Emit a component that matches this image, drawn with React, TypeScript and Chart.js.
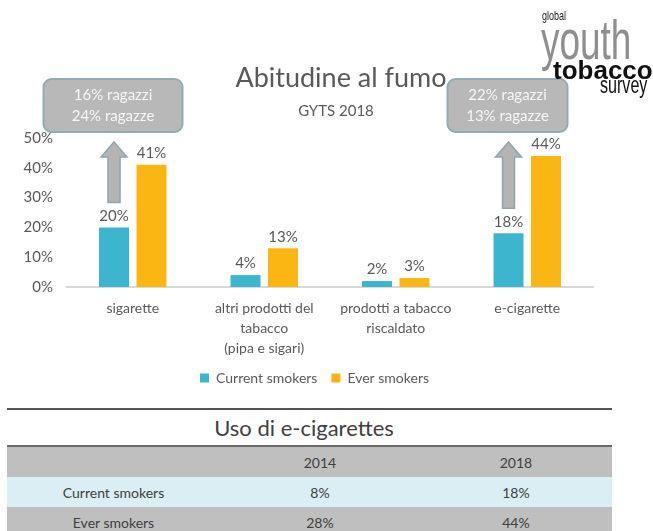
import React, { useEffect, useRef } from "react";
import { Chart, registerables } from "chart.js";

Chart.register(...registerables);

// ---------- data ----------
const categories = [
  ["sigarette"],
  ["altri prodotti del", "tabacco", "(pipa e sigari)"],
  ["prodotti a tabacco", "riscaldato"],
  ["e-cigarette"],
];
const seriesNames = ["Current smokers", "Ever smokers"];
const currentSmokers = [20, 4, 2, 18];
const everSmokers = [41, 13, 3, 44];
const yMax = 50;
const yStep = 10;

const chartTitle = "Abitudine al fumo";
const chartSubtitle = "GYTS 2018";

const calloutCategory = [0, 3];
const calloutLines = [
  ["16% ragazzi", "24% ragazze"],
  ["22% ragazzi", "13% ragazze"],
];

const tableTitle = "Uso di e-cigarettes";
const tableYears = ["2014", "2018"];
const tableRowNames = ["Current smokers", "Ever smokers"];
const tableCurrent = [8, 18];
const tableEver = [28, 44];

// ---------- styles ----------
const FONT = "Lato, 'Open Sans', sans-serif";
const TEXT = "#595959";
const BLUE = "#3db5cf";
const ORANGE = "#fbb614";
const CALLOUT_W = [139, 120];
const LEGEND_SHIFT = 14;

const valueLabels = {
  id: "valueLabels",
  afterDatasetsDraw(chart: any) {
    const ctx = chart.ctx;
    ctx.save();
    ctx.font = "15px Lato";
    ctx.fillStyle = TEXT;
    ctx.textAlign = "center";
    ctx.textBaseline = "bottom";
    chart.data.datasets.forEach((ds: any, di: number) => {
      const meta = chart.getDatasetMeta(di);
      meta.data.forEach((el: any, i: number) => {
        ctx.fillText(ds.data[i] + "%", el.x, el.y - 4);
      });
    });
    ctx.restore();
  },
};

const legendShift = {
  id: "legendShift",
  afterLayout(chart: any) {
    if (chart.legend) {
      chart.legend.left += LEGEND_SHIFT;
      chart.legend.right += LEGEND_SHIFT;
    }
  },
};

const callouts = {
  id: "callouts",
  afterDatasetsDraw(chart: any) {
    const ctx = chart.ctx;
    const meta = chart.getDatasetMeta(0);
    const top = chart.chartArea.top;
    ctx.save();
    calloutCategory.forEach((ci, k) => {
      const el = meta.data[ci];
      const cx = el.x - 1;
      const bw = CALLOUT_W[k];
      const bTop = top - 59;
      const bBot = top - 6;
      ctx.beginPath();
      ctx.roundRect(cx - bw / 2, bTop, bw, bBot - bTop, 8);
      ctx.fillStyle = "#b8b8b8";
      ctx.fill();
      ctx.lineWidth = 2;
      ctx.strokeStyle = "#95abb3";
      ctx.stroke();
      ctx.fillStyle = "#f6f6f6";
      ctx.font = "15px Lato";
      ctx.textAlign = "center";
      ctx.textBaseline = "middle";
      const mid = (bTop + bBot) / 2;
      ctx.fillText(calloutLines[k][0], cx, mid - 10.5);
      ctx.fillText(calloutLines[k][1], cx, mid + 10.5);
      // arrow
      const ax = el.x;
      const tip = bBot + 10;
      const headBase = tip + 15;
      const bottom = el.y - 25;
      ctx.beginPath();
      ctx.moveTo(ax, tip);
      ctx.lineTo(ax + 13, headBase);
      ctx.lineTo(ax + 6, headBase);
      ctx.lineTo(ax + 6, bottom);
      ctx.lineTo(ax - 6, bottom);
      ctx.lineTo(ax - 6, headBase);
      ctx.lineTo(ax - 13, headBase);
      ctx.closePath();
      ctx.fillStyle = "#b4b4b4";
      ctx.fill();
      ctx.lineWidth = 1.5;
      ctx.strokeStyle = "#8fa6ae";
      ctx.stroke();
    });
    ctx.restore();
  },
};

function BarChart() {
  const ref = useRef<HTMLCanvasElement>(null);
  useEffect(() => {
    if (!ref.current) return;
    const chart = new Chart(ref.current, {
      type: "bar",
      data: {
        labels: categories,
        datasets: [
          {
            label: seriesNames[0],
            data: currentSmokers,
            backgroundColor: BLUE,
            barPercentage: 0.8,
            categoryPercentage: 0.57,
          },
          {
            label: seriesNames[1],
            data: everSmokers,
            backgroundColor: ORANGE,
            barPercentage: 0.8,
            categoryPercentage: 0.57,
          },
        ],
      },
      options: {
        responsive: false,
        animation: false,
        devicePixelRatio: 1,
        layout: { padding: { left: 8, right: 60, top: 138, bottom: 5 } },
        scales: {
          x: {
            grid: { display: false, drawTicks: false },
            border: { display: true, color: "#d9d9d9", width: 2 },
            ticks: {
              color: TEXT,
              font: { family: FONT, size: 14, lineHeight: 1.43 },
              padding: 11,
              maxRotation: 0,
              autoSkip: false,
            },
            afterFit: (s: any) => {
              s.height = 70;
            },
          },
          y: {
            min: 0,
            max: yMax,
            grid: { display: false, drawTicks: false },
            border: { display: false },
            ticks: {
              stepSize: yStep,
              color: TEXT,
              font: { family: FONT, size: 15 },
              padding: 14,
              callback: (v: any) => v + "%",
            },
            afterFit: (s: any) => {
              s.width = 59;
            },
          },
        },
        plugins: {
          legend: {
            position: "bottom",
            labels: {
              boxWidth: 9,
              boxHeight: 9,
              padding: 14,
              color: TEXT,
              font: { family: FONT, size: 14 },
            },
          },
          tooltip: { enabled: false },
        },
      },
      plugins: [valueLabels, callouts, legendShift],
    });
    return () => chart.destroy();
  }, []);
  return (
    <canvas
      ref={ref}
      width={653}
      height={400}
      style={{ position: "absolute", left: 0, top: 0, width: 653, height: 400 }}
    />
  );
}

export default function App() {
  const logoFont = "'Liberation Sans', Arial, sans-serif";
  const cellBase: React.CSSProperties = {
    textAlign: "center",
    fontFamily: FONT,
    fontSize: 14,
    color: "#404040",
    height: 30,
    padding: 0,
  };
  const colW = [213, 200, 192];
  const abs = (s: React.CSSProperties): React.CSSProperties => ({
    position: "absolute",
    whiteSpace: "nowrap",
    ...s,
  });
  return (
    <div
      style={{
        position: "fixed",
        left: 0,
        top: 0,
        width: 653,
        height: 531,
        background: "#fff",
        overflow: "hidden",
      }}
    >
      <BarChart />
      {/* title */}
      <div
        style={abs({
          left: 341,
          top: 63,
          transform: "translateX(-50%)",
          fontFamily: FONT,
          fontSize: 27,
          lineHeight: "27px",
          color: TEXT,
        })}
      >
        {chartTitle}
      </div>
      <div
        style={abs({
          left: 336,
          top: 101,
          transform: "translateX(-50%)",
          fontFamily: FONT,
          fontSize: 15,
          lineHeight: "18px",
          color: TEXT,
        })}
      >
        {chartSubtitle}
      </div>
      {/* logo */}
      <div
        style={abs({
          left: 541,
          top: 12,
          fontFamily: logoFont,
          fontSize: 56,
          lineHeight: "56px",
          color: "#8f8f8f",
          transform: "scaleX(0.66)",
          transformOrigin: "left top",
        })}
      >
        youth
      </div>
      <div
        style={abs({
          left: 542,
          top: 10,
          fontFamily: logoFont,
          fontSize: 12,
          lineHeight: "12px",
          color: "#222",
          transform: "scaleX(0.75)",
          transformOrigin: "left top",
        })}
      >
        global
      </div>
      <div
        style={abs({
          left: 553,
          top: 57,
          fontFamily: logoFont,
          fontWeight: "bold",
          fontSize: 26,
          lineHeight: "26px",
          color: "#111",
        })}
      >
        tobacco
      </div>
      <div
        style={abs({
          left: 600,
          top: 74,
          fontFamily: logoFont,
          fontSize: 23,
          lineHeight: "23px",
          color: "#111",
          transform: "scaleX(0.7)",
          transformOrigin: "left top",
        })}
      >
        survey
      </div>
      {/* table */}
      <div style={{ position: "absolute", left: 7, top: 408, width: 605, height: 2, background: "#555" }} />
      <div
        style={abs({
          left: 304,
          top: 416,
          transform: "translateX(-50%)",
          fontFamily: FONT,
          fontSize: 22,
          lineHeight: "24px",
          color: "#404040",
        })}
      >
        {tableTitle}
      </div>
      <table
        style={{
          position: "absolute",
          left: 7,
          top: 445,
          width: 605,
          borderCollapse: "collapse",
          tableLayout: "fixed",
          borderTop: "2px solid #6a6a6a",
        }}
      >
        <colgroup>
          {colW.map((w, i) => (
            <col key={i} style={{ width: w }} />
          ))}
        </colgroup>
        <tbody>
          <tr style={{ background: "#bfbfbf" }}>
            <td style={cellBase}></td>
            {tableYears.map((y) => (
              <td key={y} style={cellBase}>
                {y}
              </td>
            ))}
          </tr>
          <tr style={{ background: "#daeef3" }}>
            <td style={cellBase}>{tableRowNames[0]}</td>
            {tableCurrent.map((v, i) => (
              <td key={i} style={cellBase}>
                {v}%
              </td>
            ))}
          </tr>
          <tr style={{ background: "#bfbfbf" }}>
            <td style={cellBase}>{tableRowNames[1]}</td>
            {tableEver.map((v, i) => (
              <td key={i} style={cellBase}>
                {v}%
              </td>
            ))}
          </tr>
        </tbody>
      </table>
    </div>
  );
}
